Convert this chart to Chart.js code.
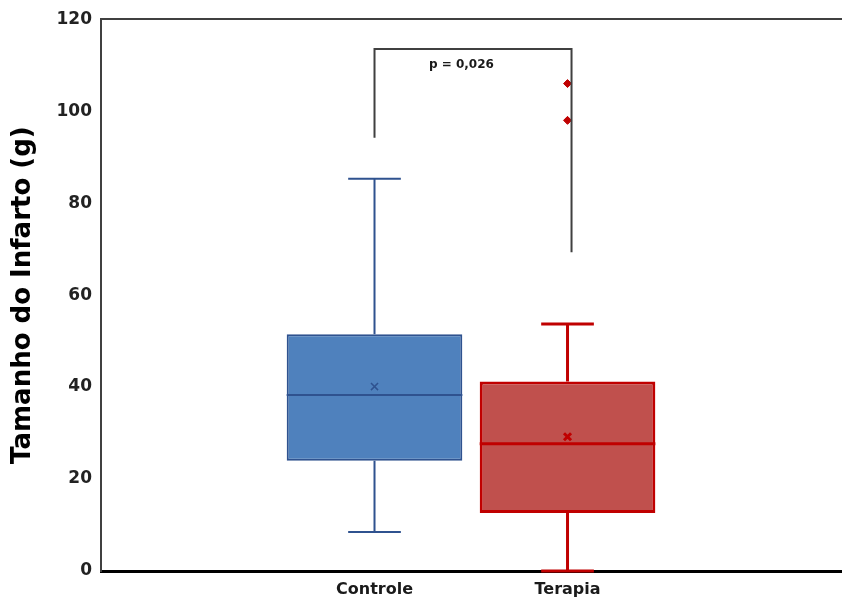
<!DOCTYPE html>
<html>
<head>
<meta charset="utf-8">
<script src="https://cdn.jsdelivr.net/npm/chart.js@4.4.1/dist/chart.umd.min.js"></script>
<style>
  body { margin: 0; background: #fff; }
  #wrap { width: 842px; height: 605px; }
</style>
</head>
<body>
<div id="wrap"><canvas id="infarto" width="842" height="605"></canvas></div>
<script>
const groups = ["Controle", "Terapia"];
const q1 = [24.0, 12.6];
const q3 = [51.5, 41.2];
const medians = [38.3, 27.7];
const means = [40.1, 29.2];
const whiskerLow = [8.5, 0];
const whiskerHigh = [85.3, 53.7];
const outliers = [[], [106, 98]];

// significance bracket: top bar height, where each leg stops
const bracketTop = 113.5;
const bracketLegEnds = [94.2, 69.3];
const pLabel = "p = 0,026";
const pLabelY = 110;

const fills = ["#4F81BD", "#C0504D"];
const strokes = ["#2F528F", "#C00000"];
const strokeWidths = [2, 3];

const groupX = groups.map((g, i) => i + 1);

// medians, whiskers and the p-value bracket on top of the boxes
const boxParts = {
  id: "boxParts",
  afterDatasetDraw(chart, args) {
    if (args.meta.type !== "bar") return;
    const ctx = chart.ctx;
    const y = chart.scales.y;
    args.meta.data.forEach((bar, i) => {
      const half = bar.width / 2;
      const cap = bar.width * 0.15;
      const yHi = y.getPixelForValue(whiskerHigh[i]);
      const yLo = y.getPixelForValue(whiskerLow[i]);
      const ym = y.getPixelForValue(medians[i]);
      ctx.save();
      ctx.strokeStyle = strokes[i];
      ctx.lineWidth = strokeWidths[i];
      ctx.beginPath();
      ctx.moveTo(bar.x - half, ym);
      ctx.lineTo(bar.x + half, ym);
      ctx.moveTo(bar.x, y.getPixelForValue(q3[i]));
      ctx.lineTo(bar.x, yHi);
      ctx.moveTo(bar.x - cap, yHi);
      ctx.lineTo(bar.x + cap, yHi);
      ctx.moveTo(bar.x, y.getPixelForValue(q1[i]));
      ctx.lineTo(bar.x, yLo);
      ctx.moveTo(bar.x - cap, yLo);
      ctx.lineTo(bar.x + cap, yLo);
      ctx.stroke();
      ctx.restore();
    });
  },
  afterDraw(chart) {
    const ctx = chart.ctx;
    const x = chart.scales.x;
    const y = chart.scales.y;
    const xl = x.getPixelForValue(groupX[0]);
    const xr = x.getPixelForValue(groupX[1]) + 4;
    const yt = y.getPixelForValue(bracketTop);
    ctx.save();
    ctx.strokeStyle = "#404040";
    ctx.lineWidth = 2;
    ctx.beginPath();
    ctx.moveTo(xl, y.getPixelForValue(bracketLegEnds[0]));
    ctx.lineTo(xl, yt);
    ctx.lineTo(xr, yt);
    ctx.lineTo(xr, y.getPixelForValue(bracketLegEnds[1]));
    ctx.stroke();
    ctx.fillStyle = "#1a1a1a";
    ctx.font = "bold 12px 'DejaVu Sans', sans-serif";
    ctx.textAlign = "center";
    ctx.textBaseline = "middle";
    ctx.fillText(pLabel, x.getPixelForValue(1.45), y.getPixelForValue(pLabelY));
    ctx.restore();
  }
};

const boxData = groups.map((g, i) => ({ x: groupX[i], y: [q1[i], q3[i]] }));
const meanData = groups.map((g, i) => ({ x: groupX[i], y: means[i] }));
const outlierData = [];
outliers.forEach((list, i) => list.forEach(v => outlierData.push({ x: groupX[i], y: v })));

const config = {
  type: "bar",
  data: {
    datasets: [
      {
        label: "Caixa",
        data: boxData,
        backgroundColor: fills,
        borderColor: strokes,
        borderWidth: strokeWidths,
        borderSkipped: false,
        categoryPercentage: 1,
        barPercentage: 0.91,
        order: 3,
      },
      {
        type: "scatter",
        label: "Média",
        data: meanData,
        pointStyle: "crossRot",
        pointRadius: 5,
        pointBorderColor: strokes,
        pointBorderWidth: [1.5, 3],
        order: 2,
      },
      {
        type: "scatter",
        label: "Outliers",
        data: outlierData,
        pointStyle: "rectRot",
        pointRadius: 4,
        pointBackgroundColor: "#C00000",
        pointBorderColor: "#C00000",
        pointBorderWidth: 1,
        order: 1,
      },
    ],
  },
  options: {
    responsive: false,
    animation: false,
    layout: { autoPadding: false, padding: { top: 17, right: 0, bottom: 0, left: 0 } },
    plugins: {
      legend: { display: false },
      tooltip: { enabled: false },
    },
    scales: {
      x: {
        type: "linear",
        offset: false,
        min: -0.417,
        max: 3.422,
        afterBuildTicks: (scale) => {
          scale.ticks = groupX.map(v => ({ value: v }));
        },
        afterFit: (scale) => {
          scale.height = 34;
          scale.paddingRight = 0;
        },
        grid: { display: false },
        border: { display: true, color: "#000000", width: 3 },
        ticks: {
          padding: 1,
          color: "#1a1a1a",
          font: { family: "'DejaVu Sans', sans-serif", size: 16, weight: "bold" },
          callback: (value) => groups[value - 1] || "",
        },
      },
      y: {
        min: 0,
        max: 120,
        afterFit: (scale) => {
          scale.width = 101;
        },
        grid: {
          drawTicks: false,
          lineWidth: 2,
          color: (ctx) => (ctx.tick && ctx.tick.value === 120 ? "#404040" : "rgba(0,0,0,0)"),
        },
        border: { display: true, color: "#404040", width: 2 },
        ticks: {
          stepSize: 20,
          padding: 9,
          color: "#222222",
          font: { family: "'DejaVu Sans', sans-serif", size: 17, weight: "bold" },
        },
        title: {
          display: true,
          text: "Tamanho do Infarto (g)",
          color: "#000000",
          padding: { top: 8, bottom: 0 },
          font: { family: "'DejaVu Sans', sans-serif", size: 26, weight: "bold" },
        },
      },
    },
  },
  plugins: [boxParts],
};

const chart = new Chart(document.getElementById("infarto"), config);
</script>
</body>
</html>
